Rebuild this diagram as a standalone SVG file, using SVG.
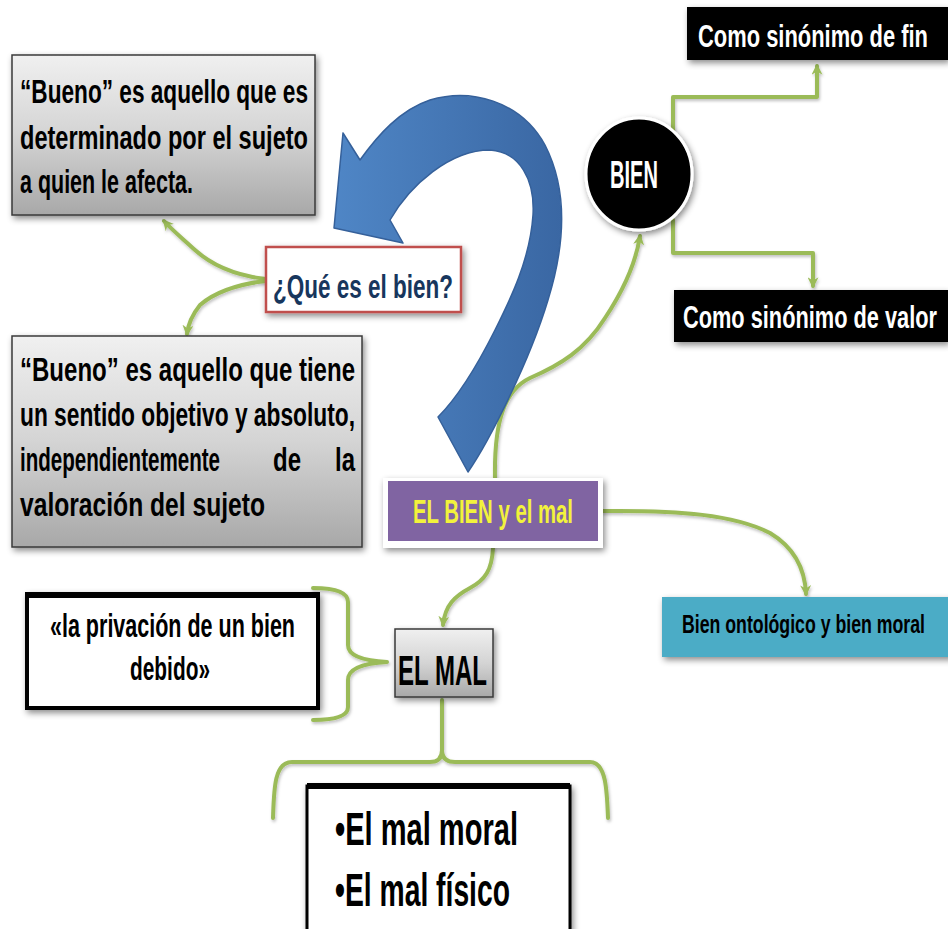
<svg xmlns="http://www.w3.org/2000/svg" width="948" height="929" viewBox="0 0 948 929">
<defs>
<style>
.t{font-family:"Liberation Sans Narrow","Liberation Sans",Arial,sans-serif;font-weight:bold;}
.blk{fill:#000;}
.wht{fill:#fff;}
.conn{fill:none;stroke:#9bbb59;stroke-width:4;stroke-linecap:round;stroke-linejoin:round;filter:url(#lshadow);}
.gray{fill:url(#gGray);stroke:#3a3a3a;stroke-width:1.5;}
</style>
<linearGradient id="gGray" x1="0" y1="0" x2="0" y2="1">
<stop offset="0" stop-color="#f0f0f0"/>
<stop offset="0.5" stop-color="#d4d4d4"/>
<stop offset="1" stop-color="#a8a8a8"/>
</linearGradient>
<linearGradient id="gBlue" x1="0" y1="0" x2="1" y2="0">
<stop offset="0" stop-color="#4f86c6"/>
<stop offset="1" stop-color="#3a67a3"/>
</linearGradient>
<filter id="shadow" x="-10%" y="-10%" width="130%" height="140%">
<feDropShadow dx="2" dy="3" stdDeviation="3" flood-color="#000" flood-opacity="0.45"/>
</filter>
<filter id="lshadow" x="-10%" y="-10%" width="130%" height="130%">
<feDropShadow dx="1" dy="2" stdDeviation="1.5" flood-color="#000" flood-opacity="0.25"/>
</filter>
<marker id="ah" viewBox="0 0 10 10" refX="8" refY="5" markerWidth="11" markerHeight="11" markerUnits="userSpaceOnUse" orient="auto">
<path d="M0,0 L10,5 L0,10 L3,5 z" fill="#9bbb59"/>
</marker>
</defs>
<rect width="948" height="929" fill="#fff"/>

<g id="connectors">
<path class="conn" d="M266,279 C240,276 215,268 195,250 C182,238 172,230 164,221" marker-end="url(#ah)"/>
<path class="conn" d="M266,281 C240,284 215,292 200,305 C192,315 188,325 187,334" marker-end="url(#ah)"/>
<path class="conn" d="M495,478 C494,420 505,390 530,378 C560,365 585,350 605,318 C625,288 636,262 640,236" marker-end="url(#ah)"/>
<path class="conn" d="M673,130 V97 H817 V66" marker-end="url(#ah)"/>
<path class="conn" d="M673,220 V253 H813 V286" marker-end="url(#ah)"/>
<path class="conn" d="M603,511 C680,510 735,515 770,533 C795,548 805,570 806,594" marker-end="url(#ah)"/>
<path class="conn" d="M493,548 C492,570 485,580 470,588 C455,596 445,605 443,625" marker-end="url(#ah)"/>
<path class="conn" d="M313,588 Q348,588 348,602 L348,645 Q348,660 387,662 M387,662 Q348,664 348,680 L348,707 Q348,720 313,720"/>
<path class="conn" d="M273,818 C274,790 274,762 292,762 L430,762 Q442,762 442,750 L442,700 M442,750 Q442,762 455,762 L590,762 C606,762 607,790 608,818"/>
</g>

<g id="arrow">
<path d="M468,472 C490,440 530,360 548,300 C565,245 568,190 545,145 C520,100 470,88 430,100 C400,110 378,135 360,160 L343,133 L334,228 L403,243 L390,220 C410,185 450,150 490,150 C520,152 535,180 533,215 C530,260 510,300 495,330 C480,360 460,395 438,417 Z" fill="url(#gBlue)" stroke="#35609a" stroke-width="1.5" stroke-linejoin="round"/>
</g>

<g id="box1">
<rect class="gray" x="12" y="55" width="303" height="160" filter="url(#shadow)"/>
<text class="t blk" font-size="33" x="20" y="103" textLength="288" lengthAdjust="spacingAndGlyphs">“Bueno” es aquello que es</text>
<text class="t blk" font-size="33" x="20" y="149" textLength="288" lengthAdjust="spacingAndGlyphs">determinado por el sujeto</text>
<text class="t blk" font-size="33" x="20" y="193" textLength="173" lengthAdjust="spacingAndGlyphs">a quien le afecta.</text>
</g>

<g id="que">
<rect x="266" y="247" width="195" height="65" fill="#fff" stroke="#c0504d" stroke-width="2.5" filter="url(#shadow)"/>
<text class="t" fill="#17365d" font-size="33" x="273" y="298" textLength="180" lengthAdjust="spacingAndGlyphs">¿Qué es el bien?</text>
</g>

<g id="box2">
<rect class="gray" x="12" y="336" width="350" height="211" filter="url(#shadow)"/>
<text class="t blk" font-size="33" x="20" y="381" textLength="335" lengthAdjust="spacingAndGlyphs">“Bueno” es aquello que tiene</text>
<text class="t blk" font-size="33" x="20" y="426" textLength="335" lengthAdjust="spacingAndGlyphs">un sentido objetivo y absoluto,</text>
<text class="t blk" font-size="20.5" transform="translate(20,471) scale(1,1.6)" x="0" y="0" textLength="200" lengthAdjust="spacingAndGlyphs">independientemente</text>
<text class="t blk" font-size="24" transform="translate(273,471) scale(1,1.375)" x="0" y="0" textLength="28" lengthAdjust="spacingAndGlyphs">de</text>
<text class="t blk" font-size="24" transform="translate(335,471) scale(1,1.375)" x="0" y="0" textLength="20" lengthAdjust="spacingAndGlyphs">la</text>
<text class="t blk" font-size="33" x="20" y="516" textLength="245" lengthAdjust="spacingAndGlyphs">valoración del sujeto</text>
</g>

<g id="bien">
<ellipse cx="639" cy="174" rx="53" ry="56" fill="#000" stroke="#fff" stroke-width="3" filter="url(#shadow)"/>
<text class="t wht" font-size="38" x="610" y="188" textLength="48" lengthAdjust="spacingAndGlyphs">BIEN</text>
</g>

<g id="fin">
<rect x="687" y="7" width="261" height="53" fill="#000" filter="url(#shadow)"/>
<text class="t wht" font-size="21.8" transform="translate(698,47) scale(1,1.45)" x="0" y="0" textLength="230" lengthAdjust="spacingAndGlyphs">Como sinónimo de fin</text>
</g>

<g id="valor">
<rect x="674" y="290" width="274" height="52" fill="#000" filter="url(#shadow)"/>
<text class="t wht" font-size="21.7" transform="translate(683,328) scale(1,1.45)" x="0" y="0" textLength="254" lengthAdjust="spacingAndGlyphs">Como sinónimo de valor</text>
</g>

<g id="elbien">
<rect x="383" y="478" width="220" height="70" fill="#fff" filter="url(#shadow)"/>
<rect x="388" y="481" width="210" height="60" fill="#8064a2"/>
<text class="t" fill="#f2f23c" font-size="34" x="413" y="523" textLength="160" lengthAdjust="spacingAndGlyphs">EL BIEN y el mal</text>
</g>

<g id="ontologico">
<rect x="662" y="597" width="290" height="60" fill="#4bacc6" filter="url(#shadow)"/>
<text class="t blk" font-size="17.6" transform="translate(682,633) scale(1,1.5)" x="0" y="0" textLength="243" lengthAdjust="spacingAndGlyphs">Bien ontológico y bien moral</text>
</g>

<g id="privacion">
<rect x="27" y="594" width="291" height="114" fill="#fff" stroke="#000" stroke-width="4" filter="url(#shadow)"/>
<line x1="27" y1="595" x2="318" y2="595" stroke="#000" stroke-width="6"/>
<text class="t blk" font-size="34" x="50" y="637" textLength="245" lengthAdjust="spacingAndGlyphs">«la privación de un bien</text>
<text class="t blk" font-size="34" x="130" y="680" textLength="80" lengthAdjust="spacingAndGlyphs">debido»</text>
</g>

<g id="elmal">
<rect class="gray" x="395" y="629" width="98" height="68" filter="url(#shadow)"/>
<text class="t blk" font-size="42" x="398" y="685" textLength="89" lengthAdjust="spacingAndGlyphs">EL MAL</text>
</g>

<g id="tipos">
<rect x="307" y="786" width="263" height="150" fill="#fff" stroke="#000" stroke-width="3" filter="url(#shadow)"/>
<line x1="307" y1="786" x2="570" y2="786" stroke="#000" stroke-width="6"/>
<text class="t blk" font-size="47" x="335" y="845" textLength="183" lengthAdjust="spacingAndGlyphs">•El mal moral</text>
<text class="t blk" font-size="47" x="335" y="906" textLength="175" lengthAdjust="spacingAndGlyphs">•El mal físico</text>
</g>
</svg>
